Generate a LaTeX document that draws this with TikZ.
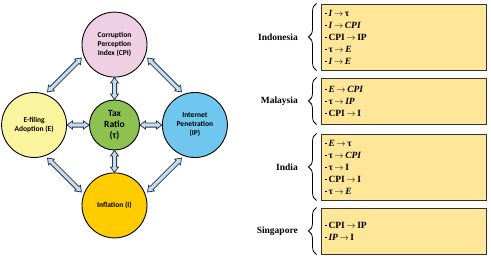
\documentclass[tikz,border=0pt]{standalone}
\usepackage{fontspec}
\setmainfont{Liberation Serif}
\newfontfamily\circfont{Carlito}
\usetikzlibrary{positioning,calc,decorations.pathreplacing}

\definecolor{cpipink}{HTML}{EFCFE3}
\definecolor{efillyellow}{HTML}{FBF49F}
\definecolor{taxgreen}{HTML}{8DC150}
\definecolor{ipblue}{HTML}{6FC7EF}
\definecolor{inflgold}{HTML}{FFCC00}
\definecolor{arrowfill}{HTML}{C6DCF0}
\definecolor{arrowline}{HTML}{2B3A4A}
\definecolor{boxfill}{HTML}{FFE699}
\definecolor{boxline}{HTML}{333333}

% bullet and arrow of the link lists
\newcommand{\bul}{\rule[2pt]{1.5pt}{1.5pt}\hspace{2pt}}
\newcommand{\lto}{\,$\rightarrow$\,}

% hollow two-headed block arrow between two nodes (optional gap)
\newcommand{\biarrow}[3][0pt]{%
  \path (#2) -- (#3) coordinate[pos=0] (ba0) coordinate[pos=1] (ba1);
  \coordinate (bs) at ($(ba0)!#1!(ba1)$);
  \coordinate (be) at ($(ba1)!#1!(ba0)$);
  \coordinate (bh) at ($(bs)!5.5pt!(be)$);
  \coordinate (bt) at ($(be)!5.5pt!(bs)$);
  \draw[dblarrow] (bs) -- ($(bh)!4pt!90:(be)$) -- ($(bh)!2.1pt!90:(be)$)
    -- ($(bt)!2.1pt!-90:(bs)$) -- ($(bt)!4pt!-90:(bs)$) -- (be)
    -- ($(bt)!4pt!90:(bs)$) -- ($(bt)!2.1pt!90:(bs)$)
    -- ($(bh)!2.1pt!-90:(be)$) -- ($(bh)!4pt!-90:(be)$) -- cycle;}

\begin{document}
\begin{tikzpicture}[
  x=1pt, y=1pt,
  node distance=22pt,
  factor/.style={circle, draw=black, line width=0.9pt, minimum size=65pt, inner sep=0pt, align=center, font=\circfont\bfseries\fontsize{7.5}{9}\selectfont},
  dblarrow/.style={draw=arrowline, fill=arrowfill, line width=0.8pt},
  linkbox/.style={rectangle, draw=boxline, fill=boxfill, line width=1pt, minimum width=165pt, text width=157pt, align=left, inner xsep=4pt, font=\bfseries\fontsize{9.5}{12}\selectfont},
  country/.style={font=\bfseries\fontsize{9.5}{11}\selectfont},
  cbrace/.style={decorate, decoration={brace, amplitude=8pt}, line width=0.8pt}
]
  \useasboundingbox (0,0) rectangle (491,258);

  % factors
  \node[factor, minimum size=50pt, fill=taxgreen, font=\circfont\bfseries\fontsize{9.5}{11}\selectfont] (tax) at (114.5,133) {Tax\\Ratio\\(τ)};
  \node[factor, fill=cpipink, above=of tax] (cpi) {Corruption\\Perception\\Index (CPI)};
  \node[factor, fill=efillyellow, left=of tax] (efl) {E-filing\\Adoption (E)};
  \node[factor, fill=ipblue, right=of tax] (ip) {Internet\\Penetration\\(IP)};
  \node[factor, fill=inflgold, below=of tax] (infl) {Inflation (I)};

  % links
  \biarrow{cpi}{tax}
  \biarrow{efl}{tax}
  \biarrow{tax}{ip}
  \biarrow{tax}{infl}
  \biarrow[3pt]{efl.70}{cpi.200}
  \biarrow[3pt]{cpi.340}{ip.110}
  \biarrow[3pt]{efl.290}{infl.160}
  \biarrow[3pt]{infl.20}{ip.250}

  % country boxes
  \node[linkbox, minimum height=66pt] (indo) at (403.5,221) {\bul\textit{I}\lto τ\\ \bul\textit{I}\lto\textit{CPI}\\ \bul CPI\lto IP\\ \bul τ\lto\textit{E}\\ \bul\textit{I}\lto\textit{E}};
  \node[linkbox, minimum height=46pt, below=7pt of indo] (mala) {\bul\textit{E}\lto\textit{CPI}\\ \bul τ\lto\textit{IP}\\ \bul CPI\lto I};
  \node[linkbox, minimum height=66pt, below=9pt of mala] (indi) {\bul\textit{E}\lto τ\\ \bul τ\lto\textit{CPI}\\ \bul τ\lto I\\ \bul CPI\lto I\\ \bul τ\lto\textit{E}};
  \node[linkbox, minimum height=46pt, below=7pt of indi] (sing) {\bul CPI\lto IP\\ \bul\textit{IP}\lto I};

  % braces and country names
  \draw[cbrace] ([xshift=-4pt]indo.south west) -- ([xshift=-4pt]indo.north west) node[country, midway, left=15pt] (indo-lbl) {Indonesia};
  \draw[cbrace] ([xshift=-4pt]mala.south west) -- ([xshift=-4pt]mala.north west) node[country, midway, left=15pt] (mala-lbl) {Malaysia};
  \draw[cbrace] ([xshift=-4pt]indi.south west) -- ([xshift=-4pt]indi.north west) node[country, midway, left=15pt] (indi-lbl) {India};
  \draw[cbrace] ([xshift=-4pt]sing.south west) -- ([xshift=-4pt]sing.north west) node[country, midway, left=15pt] (sing-lbl) {Singapore};
\end{tikzpicture}
\end{document}
